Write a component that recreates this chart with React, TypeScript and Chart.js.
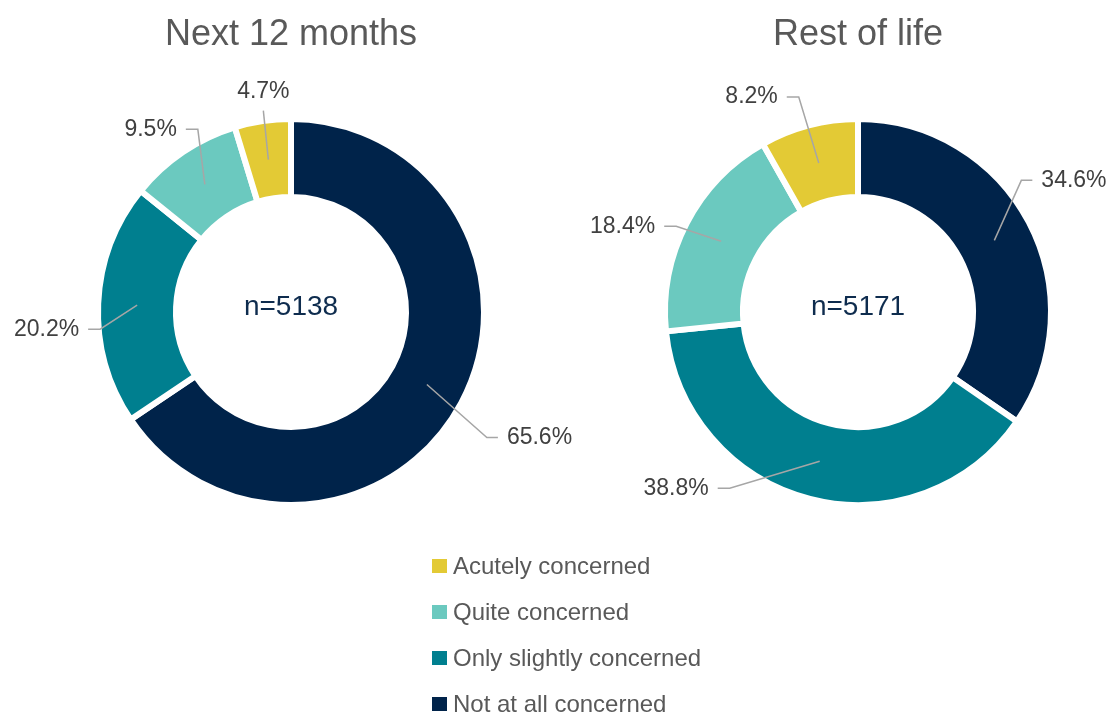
import React, { useEffect, useRef } from 'react';
import { Chart, registerables } from 'chart.js';

Chart.register(...registerables);

// ---- data ----
const categories = ['Not at all concerned', 'Only slightly concerned', 'Quite concerned', 'Acutely concerned'];
const next12Values = [65.6, 20.2, 9.5, 4.7];
const restOfLifeValues = [34.6, 38.8, 18.4, 8.2];
const chartTitles = ['Next 12 months', 'Rest of life'];
const sampleSizes = [5138, 5171];
const legendOrder = ['Acutely concerned', 'Quite concerned', 'Only slightly concerned', 'Not at all concerned'];

// ---- styles ----
const colorMap: Record<string, string> = {
  'Not at all concerned': '#00234A',
  'Only slightly concerned': '#007F8F',
  'Quite concerned': '#6BC9BF',
  'Acutely concerned': '#E3CA35',
};
const FONT = '"Liberation Sans", Arial, sans-serif';

// label leader offsets (elbow relative to leader start), and label side
type LabelPos = { dx: number; dy: number; side: 'left' | 'right' | 'top' };
const leftLabelPos: LabelPos[] = [
  { dx: 60, dy: 53, side: 'right' },
  { dx: -37, dy: 24, side: 'left' },
  { dx: -7, dy: -55, side: 'left' },
  { dx: -5, dy: -49, side: 'top' },
];
const rightLabelPos: LabelPos[] = [
  { dx: 27, dy: -60, side: 'right' },
  { dx: -90, dy: 27, side: 'left' },
  { dx: -45, dy: -15, side: 'left' },
  { dx: -20, dy: -66, side: 'left' },
];

const labelPlugin = {
  id: 'donutLabels',
  afterDatasetsDraw(chart: any) {
    const opts = chart.options.plugins.donutLabels;
    const ctx = chart.ctx;
    const meta = chart.getDatasetMeta(0);
    const data = chart.data.datasets[0].data;
    ctx.save();
    meta.data.forEach((arc: any, i: number) => {
      const { x, y, startAngle, endAngle, innerRadius, outerRadius } = arc.getProps(
        ['x', 'y', 'startAngle', 'endAngle', 'innerRadius', 'outerRadius'], true);
      const mid = (startAngle + endAngle) / 2;
      const r = (innerRadius + outerRadius) / 2;
      const sx = x + Math.cos(mid) * r;
      const sy = y + Math.sin(mid) * r;
      const p: LabelPos = opts.positions[i];
      const ex = sx + p.dx;
      const ey = sy + p.dy;
      ctx.strokeStyle = '#A6A6A6';
      ctx.lineWidth = 1.5;
      ctx.beginPath();
      ctx.moveTo(sx, sy);
      ctx.lineTo(ex, ey);
      let tx = ex, ty = ey;
      if (p.side === 'right') {
        ctx.lineTo(ex + 11, ey);
        tx = ex + 20;
      } else if (p.side === 'left') {
        ctx.lineTo(ex - 12, ey);
        tx = ex - 21;
      } else {
        ty = ey - 19;
      }
      ctx.stroke();
      ctx.fillStyle = '#404040';
      ctx.font = `23px ${FONT}`;
      ctx.textBaseline = 'middle';
      ctx.textAlign = p.side === 'right' ? 'left' : p.side === 'left' ? 'right' : 'center';
      ctx.fillText(`${Number(data[i]).toFixed(1)}%`, tx, ty);
    });
    const first = meta.data[0];
    if (first) {
      ctx.fillStyle = '#0E2C4E';
      ctx.font = `28px ${FONT}`;
      ctx.textAlign = 'center';
      ctx.textBaseline = 'middle';
      ctx.fillText(`n=${opts.n}`, first.x, first.y - 5);
      ctx.fillStyle = '#595959';
      ctx.font = `36px ${FONT}`;
      ctx.fillText(opts.title, first.x, 35);
    }
    ctx.restore();
  },
};

function Donut(props: { values: number[]; title: string; n: number; positions: LabelPos[]; left: number; width: number; padLeft: number }) {
  const ref = useRef<HTMLCanvasElement>(null);
  useEffect(() => {
    if (!ref.current) return;
    const chart = new Chart(ref.current, {
      type: 'doughnut',
      data: {
        labels: categories,
        datasets: [{
          data: props.values,
          backgroundColor: categories.map((c) => colorMap[c]),
          borderColor: '#ffffff',
          borderWidth: 6,
          radius: 193,
        } as any],
      },
      options: {
        animation: false,
        responsive: false,
        maintainAspectRatio: false,
        cutout: '59.6%',
        layout: { padding: { left: props.padLeft, right: 0, top: 0, bottom: 0 } },
        plugins: {
          legend: { display: false },
          tooltip: { enabled: false },
          title: { display: false },
          donutLabels: { positions: props.positions, n: props.n, title: props.title },
        } as any,
      } as any,
      plugins: [labelPlugin],
    });
    return () => chart.destroy();
  }, []);
  return (
    <canvas
      ref={ref}
      width={props.width}
      height={624}
      style={{ position: 'absolute', left: props.left, top: 0, width: props.width, height: 624 }}
    />
  );
}

export default function App() {
  return (
    <div style={{ position: 'fixed', left: 0, top: 0, width: 1110, height: 713, background: '#fff', overflow: 'hidden' }}>
      <Donut values={next12Values} title={chartTitles[0]} n={sampleSizes[0]} positions={leftLabelPos} left={0} width={582} padLeft={0} />
      <Donut values={restOfLifeValues} title={chartTitles[1]} n={sampleSizes[1]} positions={rightLabelPos} left={560} width={550} padLeft={46} />
      <div style={{ position: 'absolute', left: 432, top: 543, fontFamily: FONT, fontSize: 24, color: '#595959' }}>
        {legendOrder.map((c) => (
          <div key={c} style={{ height: 46, display: 'flex', alignItems: 'center', lineHeight: '30px' }}>
            <span style={{ display: 'inline-block', width: 15, height: 14, background: colorMap[c], marginRight: 6 }} />
            <span>{c}</span>
          </div>
        ))}
      </div>
    </div>
  );
}
